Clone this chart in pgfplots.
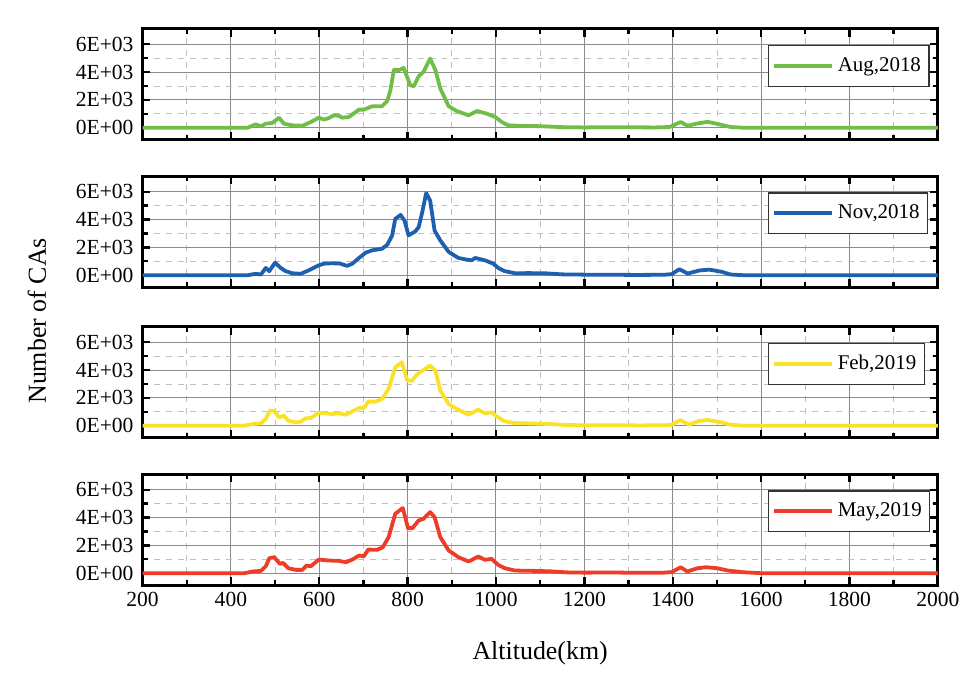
\documentclass[border=0pt]{standalone}
\usepackage{fontspec}
\setmainfont{Liberation Serif}
\usepackage{pgfplots}
\pgfplotsset{compat=1.18}

\definecolor{cAug}{RGB}{112,190,72}
\definecolor{cNov}{RGB}{30,96,176}
\definecolor{cFeb}{RGB}{250,226,40}
\definecolor{cMay}{RGB}{238,60,40}

\pgfplotsset{
  panel/.style={
    width=399pt, height=55.5pt, scale only axis,
    xmin=200, xmax=2000, ymin=-850, ymax=7100,
    xtick={200,400,...,2000}, minor x tick num=1,
    ytick={0,2000,4000,6000}, yticklabels={0E+00,2E+03,4E+03,6E+03},
    minor y tick num=1,
    grid=both,
    major grid style={black!45, line width=0.5pt},
    minor grid style={black!25, dashed, line width=0.4pt},
    tick align=inside,
    axis line style={line width=1.5pt},
    major tick length=4pt, minor tick length=2.5pt,
    every tick/.style={black, line width=1.2pt},
    tick label style={font=\fontsize{10.8}{12}\selectfont},
    /pgf/number format/assume math mode=true,
    /pgf/number format/1000 sep={},
    scaled ticks=false,
    yticklabel style={xshift=-1pt},
    legend style={at={(0.786,0.856)}, anchor=north west, draw=black!80,
      line width=0.6pt, font=\fontsize{10.5}{12}\selectfont,
      inner xsep=2pt, inner ysep=4pt},
    legend image code/.code={\draw[#1] (0pt,0pt) -- (29pt,0pt);},
    every axis plot/.append style={line width=1.9pt, line join=round},
  }
}

\begin{document}
\begin{tikzpicture}

\begin{axis}[panel, at={(0pt,0pt)}, anchor=north west, xticklabels={}]
\addplot[cAug] coordinates {
(200,0)(300,0)(400,0)(438,0)(456,240)(468,100)(479,290)(494,340)(509,720)(520,290)
(539,170)(562,140)(581,410)(599,720)(611,580)(622,700)(633,890)(644,860)(652,720)
(667,770)(690,1300)(701,1300)(720,1540)(742,1540)(754,1920)(761,2690)(769,4180)
(780,4130)(791,4300)(806,3050)(814,2980)(825,3700)(836,4010)(851,4970)(863,4130)
(874,2810)(893,1540)(911,1200)(938,890)(957,1200)(979,1010)(998,770)(1013,410)
(1028,170)(1058,130)(1100,110)(1150,40)(1200,20)(1260,40)(1300,30)(1360,20)
(1393,50)(1418,410)(1434,140)(1455,300)(1479,420)(1500,280)(1531,50)(1560,0)
(1700,0)(2000,0)
};
\addlegendentry{Aug,2018}
\end{axis}

\begin{axis}[panel, at={(0pt,-74pt)}, anchor=north west, xticklabels={}]
\addplot[cNov] coordinates {
(200,0)(300,0)(400,0)(438,0)(456,100)(468,50)(479,520)(487,290)(500,900)(513,520)
(524,290)(539,140)(558,100)(577,360)(599,710)(611,830)(629,860)(648,830)(663,670)
(675,830)(690,1240)(705,1620)(720,1790)(742,1900)(754,2190)(765,2860)(772,4050)
(784,4330)(793,3930)(802,2860)(817,3140)(825,3450)(833,4520)(842,5900)(851,5360)
(861,3210)(874,2500)(893,1670)(915,1240)(930,1140)(945,1070)(953,1240)(975,1070)
(994,830)(1005,520)(1020,290)(1043,140)(1073,150)(1110,140)(1150,60)(1200,40)
(1260,30)(1320,20)(1380,30)(1398,80)(1415,430)(1434,120)(1460,340)(1483,400)
(1510,250)(1531,50)(1560,0)(1700,0)(2000,0)
};
\addlegendentry{Nov,2018}
\end{axis}

\begin{axis}[panel, at={(0pt,-149.5pt)}, anchor=north west, xticklabels={}]
\addplot[cFeb] coordinates {
(200,0)(300,0)(400,0)(430,0)(449,120)(468,170)(479,480)(488,1080)(498,1080)
(509,600)(520,720)(530,360)(547,240)(558,290)(569,530)(581,550)(599,940)(614,890)
(629,840)(644,890)(660,790)(675,1030)(690,1270)(701,1270)(711,1730)(727,1730)
(742,1920)(757,2640)(772,4200)(787,4560)(799,3240)(810,3240)(821,3670)(836,4010)
(851,4320)(863,3960)(874,2520)(893,1560)(911,1200)(938,790)(960,1150)(975,890)
(989,960)(1005,600)(1020,310)(1043,190)(1080,160)(1120,120)(1160,50)(1200,30)
(1260,40)(1320,20)(1380,30)(1398,70)(1417,410)(1437,70)(1458,330)(1479,410)
(1505,270)(1531,70)(1560,0)(1700,0)(2000,0)
};
\addlegendentry{Feb,2019}
\end{axis}

\begin{axis}[panel, at={(0pt,-223.5pt)}, anchor=north west]
\addplot[cMay] coordinates {
(200,0)(300,0)(400,0)(430,0)(449,120)(468,170)(479,500)(487,1080)(498,1150)
(511,670)(518,740)(530,360)(547,240)(562,240)(571,550)(581,500)(599,980)(622,910)
(644,890)(660,790)(675,980)(690,1270)(701,1220)(711,1700)(731,1680)(744,1870)
(757,2590)(772,4270)(789,4680)(801,3240)(811,3240)(825,3790)(836,3910)(851,4390)
(861,4030)(874,2590)(893,1630)(915,1150)(938,840)(960,1200)(975,960)(990,1030)
(1005,600)(1020,360)(1043,190)(1080,170)(1120,140)(1160,60)(1200,40)(1260,50)
(1320,30)(1380,40)(1398,80)(1418,430)(1433,120)(1455,350)(1475,430)(1500,360)
(1525,190)(1560,70)(1600,0)(1700,0)(2000,0)
};
\addlegendentry{May,2019}
\end{axis}

\node[rotate=90, font=\fontsize{13}{15}\selectfont] at (-53pt,-146.5pt) {Number of CAs};
\node[font=\fontsize{13}{15}\selectfont] at (199.5pt,-313pt) {Altitude(km)};
\path (-71.5pt,14.5pt) rectangle (411.5pt,-323pt);
\end{tikzpicture}
\end{document}
